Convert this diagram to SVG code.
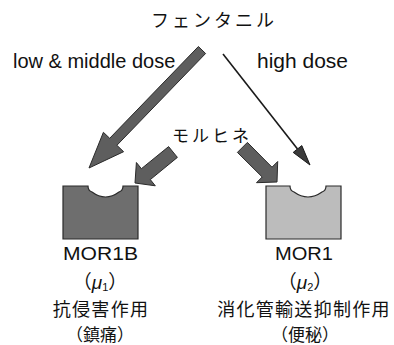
<svg xmlns="http://www.w3.org/2000/svg" width="394" height="345" viewBox="0 0 394 345">
<style>
.lat{font-family:"Liberation Sans",Arial,sans-serif;fill:#111}
.jp{font-family:"Noto Sans CJK JP","Noto Sans CJK SC",sans-serif;fill:#111}
.bigarrow{fill:#5e5e5e;stroke:#2a2a2a;stroke-width:1;stroke-linejoin:miter}
.box{stroke:#2a2a2a;stroke-width:1.2}
</style>
<rect width="394" height="345" fill="#ffffff"/>
<g id="fentanyl">
<text class="jp" x="151" y="27" font-size="18" letter-spacing="3">フェンタニル</text>
</g>
<g id="morphine">
<text class="jp" x="172" y="142" font-size="17" letter-spacing="3">モルヒネ</text>
</g>
<g id="connectors">
<polygon class="bigarrow" points="198.4,46.5 205.6,53.5 116.9,145.3 123.6,151.7 89,168 103.4,132.3 109.7,138.3"/>
<polygon class="bigarrow" points="168.6,146.6 177.4,157.4 150.3,179.6 155.3,185.8 135,183 136.4,162.5 141.4,168.7"/>
<polygon class="bigarrow" points="247.4,142.4 272.0,167.2 277.7,161.5 277,182 256.5,182.7 262.2,177.0 237.4,152.4"/>
<line x1="223" y1="54" x2="297.5" y2="149" stroke="#1a1a1a" stroke-width="1.6"/>
<polygon points="310,165 301.8,145.6 293.2,152.4" fill="#3a3a3a" stroke="#1a1a1a" stroke-width="1"/>
<text class="lat" x="13" y="68" font-size="20">low &amp; middle dose</text>
<text class="lat" x="257" y="68" font-size="20" textLength="91" lengthAdjust="spacingAndGlyphs">high dose</text>
</g>
<g id="mor1b">
<path class="box" fill="#6e6e6e" d="M63,186 H88 C88,189 89,191 92,192 Q105.5,202 119,192 C122,191 123,189 123,186 H138 V239 H63 Z"/>
<text class="lat" x="100.5" y="260" font-size="19" text-anchor="middle" textLength="75" lengthAdjust="spacingAndGlyphs">MOR1B</text>
<text class="jp" x="100" y="289" font-size="19" text-anchor="middle">（<tspan font-family="Liberation Sans,sans-serif" font-style="italic">μ</tspan><tspan font-family="Liberation Sans,sans-serif" font-size="11" dy="2">1</tspan><tspan dy="-2">）</tspan></text>
<text class="jp" x="101" y="316" font-size="18" text-anchor="middle" letter-spacing="1.3">抗侵害作用</text>
<text class="jp" x="100" y="341" font-size="17" text-anchor="middle">（鎮痛）</text>
</g>
<g id="mor1">
<path class="box" fill="#bcbcbc" d="M266,186 H290 C290,189 291,191 294,192 Q308,202 322,192 C325,191 326,189 326,186 H341 V239 H266 Z"/>
<text class="lat" x="304" y="260" font-size="19" text-anchor="middle" textLength="58" lengthAdjust="spacingAndGlyphs">MOR1</text>
<text class="jp" x="305" y="289" font-size="19" text-anchor="middle">（<tspan font-family="Liberation Sans,sans-serif" font-style="italic">μ</tspan><tspan font-family="Liberation Sans,sans-serif" font-size="11" dy="2">2</tspan><tspan dy="-2">）</tspan></text>
<text class="jp" x="304" y="316" font-size="18" text-anchor="middle" letter-spacing="1.3">消化管輸送抑制作用</text>
<text class="jp" x="305" y="341" font-size="17" text-anchor="middle">（便秘）</text>
</g>
</svg>
